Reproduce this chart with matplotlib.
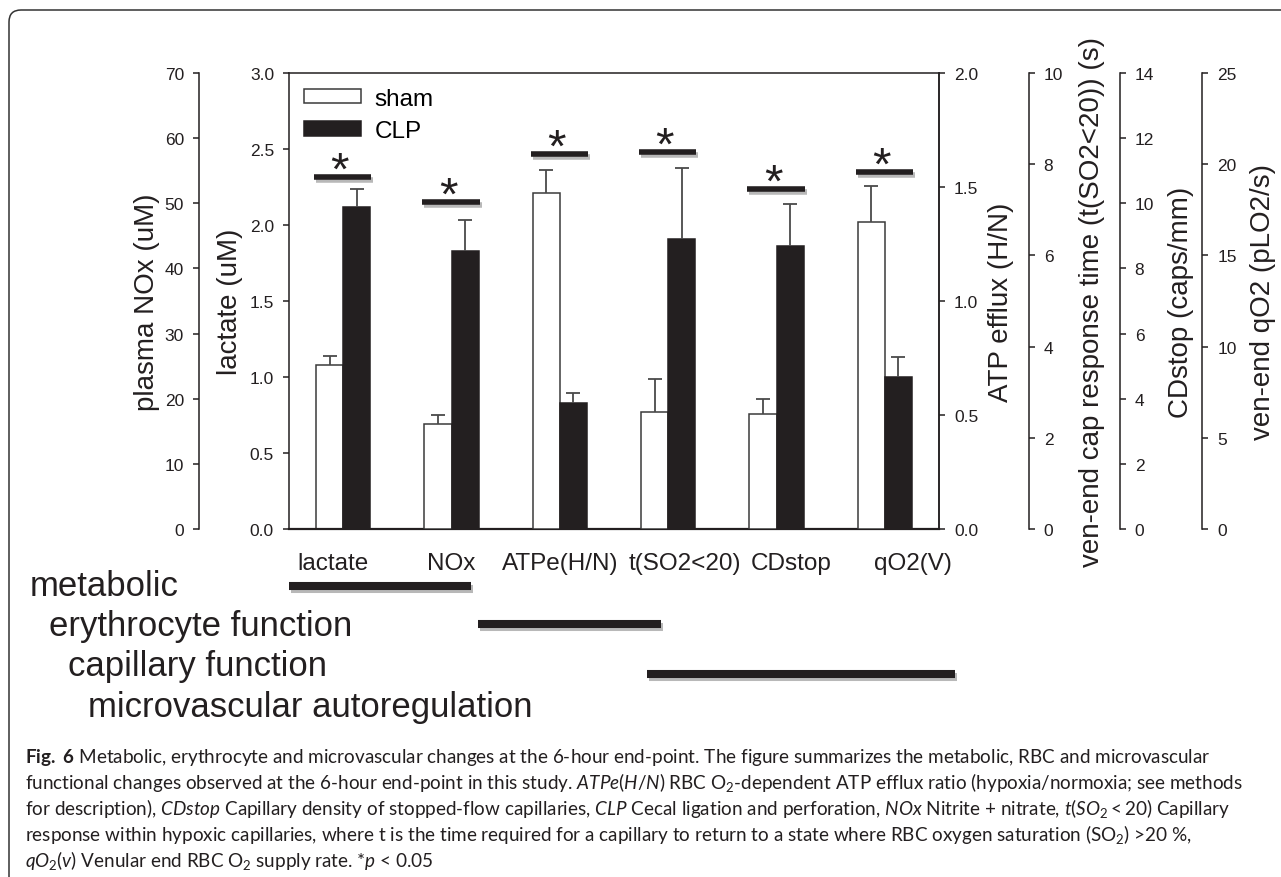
import matplotlib
matplotlib.use('Agg')
import matplotlib.pyplot as plt
from matplotlib import patheffects as pe
from matplotlib.patches import FancyBboxPatch
from matplotlib.transforms import ScaledTranslation, IdentityTransform, blended_transform_factory

plt.rcParams['font.family'] = 'Liberation Sans'
plt.rcParams['mathtext.fontset'] = 'custom'
plt.rcParams['mathtext.rm'] = 'Lato'
plt.rcParams['mathtext.it'] = 'Lato:italic'
plt.rcParams['mathtext.bf'] = 'Lato:bold'

INK = '#231f20'
W, H = 1281, 878

# data (each category has its own y axis)
categories = ['lactate', 'NOx', 'ATPe(H/N)', 't(SO2<20)', 'CDstop', 'qO2(V)']
sham_mean = [1.08, 16.1, 1.475, 2.57, 3.54, 16.85]
sham_err = [0.06, 1.4, 0.10, 0.73, 0.46, 1.94]
clp_mean = [2.12, 42.6, 0.551, 6.35, 8.69, 8.35]
clp_err = [0.12, 4.9, 0.045, 1.57, 1.30, 1.10]

axis_max = [3, 70, 2, 10, 14, 25]
axis_step = [0.5, 10, 0.5, 2, 2, 5]
axis_fmt = ['%.1f', '%d', '%.1f', '%d', '%d', '%d']
axis_labels = ['lactate (uM)', 'plasma NOx (uM)', 'ATP efflux (H/N)',
               'ven-end cap response time (t(SO2<20)) (s)',
               'CDstop (caps/mm)', 'ven-end qO2 (pLO2/s)']

# significance bar heights, in lactate-axis units
sig_height = [2.318, 2.149, 2.465, 2.478, 2.237, 2.351]

groups = ['metabolic', 'erythrocyte function', 'capillary function',
          'microvascular autoregulation']
group_span = [(-0.5, 1.18), (1.24, 2.93), (2.8, 5.65)]

caption = [
    r"$\mathbf{Fig.\ 6}$ Metabolic, erythrocyte and microvascular changes at the 6-hour end-point. The figure summarizes the metabolic, RBC and microvascular",
    r"functional changes observed at the 6-hour end-point in this study. $\mathit{ATPe(H/N)}$ RBC O$_2$-dependent ATP efflux ratio (hypoxia/normoxia; see methods",
    r"for description), $\mathit{CDstop}$ Capillary density of stopped-flow capillaries, $\mathit{CLP}$ Cecal ligation and perforation, $\mathit{NOx}$ Nitrite + nitrate, $\mathit{t(SO_2 < 20)}$ Capillary",
    r"response within hypoxic capillaries, where t is the time required for a capillary to return to a state where RBC oxygen saturation (SO$_2$) >20 %,",
    r"$\mathit{qO_2(v)}$ Venular end RBC O$_2$ supply rate. *$\mathit{p}$ < 0.05",
]

fig = plt.figure(figsize=(W / 100, H / 100), dpi=100)
ax = fig.add_axes([289 / W, 1 - 530 / H, 650 / W, 456 / H])
axes = [ax] + [ax.twinx() for _ in range(5)]

# spine / label placement in axes fraction
spine_pos = [0, -0.1385, 1.0, 1.138, 1.278, 1.405]
label_pos = [-0.091, -0.218, 1.095, 1.236, 1.372, 1.498]

w = 0.25
for i, a in enumerate(axes):
    a.set_xlim(-0.5, 5.5)
    a.set_ylim(0, axis_max[i])
    ticks = [k * axis_step[i] for k in range(int(round(axis_max[i] / axis_step[i])) + 1)]
    a.set_yticks(ticks)
    a.set_yticklabels([axis_fmt[i] % t for t in ticks])
    for s in a.spines.values():
        s.set_visible(False)
        s.set_linewidth(1.1)
        s.set_color(INK)
    if i < 2:
        a.yaxis.tick_left()
        a.yaxis.set_label_position('left')
        a.spines['left'].set_visible(True)
        a.spines['left'].set_position(('axes', spine_pos[i]))
    else:
        a.yaxis.tick_right()
        a.yaxis.set_label_position('right')
        a.spines['right'].set_visible(True)
        a.spines['right'].set_position(('axes', spine_pos[i]))
    a.tick_params(axis='y', direction='out', length=4.3, width=1.1, color=INK,
                  labelsize=12.5, labelcolor=INK, pad=6.5)
    a.set_ylabel(axis_labels[i], fontsize=20, color=INK)
    a.yaxis.label.set_verticalalignment('center')
    a.yaxis.set_label_coords(label_pos[i], 0.5)

    b1 = a.bar(i - w / 2, sham_mean[i], w, color='white', edgecolor='#3a3a3a', lw=1.1, label='sham')
    b2 = a.bar(i + w / 2, clp_mean[i], w, color=INK, edgecolor=INK, lw=1.1, label='CLP')
    for x, m, e in [(i - w / 2, sham_mean[i], sham_err[i]), (i + w / 2, clp_mean[i], clp_err[i])]:
        eb = a.errorbar(x, m, yerr=[[0], [e]], fmt='none', ecolor='#4a4a4a',
                        elinewidth=1.3, capsize=4.7, capthick=1.3)
        eb[1][0].set_visible(False)
    if i == 0:
        handles = [b1, b2]

ax.spines['top'].set_visible(True)
ax.spines['bottom'].set_visible(True)
ax.spines['bottom'].set_linewidth(1.6)
ax.spines['right'].set_visible(True)

ax.set_xticks(range(len(categories)))
ax.set_xticklabels(categories, fontsize=17.5, color=INK)
ax.tick_params(axis='x', length=0, pad=16.5)
label_shift = [-10, 0, 0, 17, 15, 28]
for lab, dx in zip(ax.get_xticklabels(), label_shift):
    lab.set_transform(lab.get_transform() + ScaledTranslation(dx / 100, 0, fig.dpi_scale_trans))

ax.legend(handles=handles, labels=['sham', 'CLP'], loc='upper left', bbox_to_anchor=(0, 1),
          frameon=False, fontsize=17.5, handlelength=2.35, handleheight=0.53,
          handletextpad=0.58, labelspacing=0.43, borderpad=0.6, borderaxespad=0)

shadow = [pe.SimpleLineShadow(offset=(1.5, -2.2), shadow_color='k', alpha=0.28), pe.Normal()]
top = axes[-1]
for i, h in enumerate(sig_height):
    top.plot([i - 0.27, i + 0.26], [h, h], transform=ax.transData, color=INK, lw=4,
             solid_capstyle='butt', path_effects=shadow, clip_on=False)
    top.text(i - 0.03, h - 0.045, '*', transform=ax.transData, fontsize=34,
             ha='center', va='baseline', color=INK)

# group lines under the axis
gtr = blended_transform_factory(ax.transData, ax.transAxes)
group_y = [-0.124, -0.2083, -0.318]
for (x0, x1), gy in zip(group_span, group_y):
    top.plot([x0, x1], [gy, gy], transform=gtr, color=INK, lw=5.8,
             solid_capstyle='butt', path_effects=shadow, clip_on=False)

group_x = [30, 49, 68, 88]
group_yc = [587, 627, 667, 707]
for g, gx, gy in zip(groups, group_x, group_yc):
    fig.text(gx / W, 1 - gy / H, g, fontsize=25, color=INK, ha='left', va='center')

cap_base = [763, 789, 815, 841, 867]
for line, y in zip(caption, cap_base):
    fig.text(25 / W, 1 - y / H, line, fontsize=13.6, family='Lato', color=INK,
             ha='left', va='baseline')

box = FancyBboxPatch((9, -60), 1400, H - 11 + 60, boxstyle='round,pad=0,rounding_size=12',
                     transform=IdentityTransform(), fill=False, edgecolor='#333333', lw=1.1)
fig.add_artist(box)

fig.savefig('out.png', dpi=100)
